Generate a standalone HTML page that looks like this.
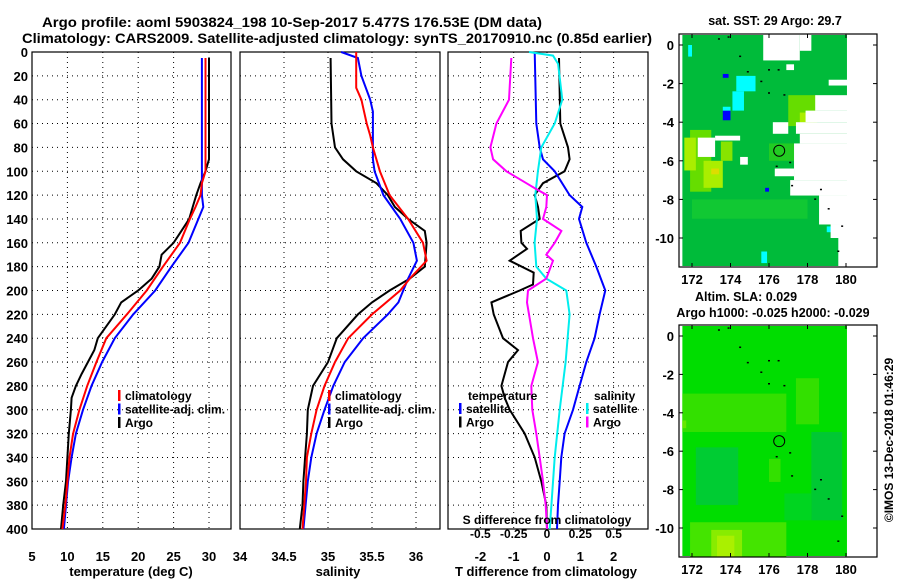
<!DOCTYPE html>
<html><head><meta charset="utf-8"><style>
html,body{margin:0;padding:0;background:#fff;}
svg text{font-family:"Liberation Sans",sans-serif;font-weight:bold;}
</style></head><body>
<svg id="fig" width="900" height="580" viewBox="0 0 900 580" xmlns="http://www.w3.org/2000/svg">
<text x="42" y="27" font-size="14" textLength="500" lengthAdjust="spacingAndGlyphs">Argo profile: aoml 5903824_198 10-Sep-2017 5.477S 176.53E (DM data)</text>
<text x="22" y="43" font-size="14" textLength="630" lengthAdjust="spacingAndGlyphs">Climatology: CARS2009. Satellite-adjusted climatology: synTS_20170910.nc (0.85d earlier)</text>
<g id="g"></g>
</svg>
<script>
// ===== profile data =====
const depthGrid = [0,20,40,60,80,100,120,140,160,180,200,220,240,260,280,300,320,340,360,380,400];
const tempArgoDepth = [5,90,100,110,120,130,140,150,160,170,180,190,200,210,220,230,240,250,260,270,280,290,300,320,340,360,380,400];
const tempArgo = [30.0,30.0,29.5,28.8,28.2,27.7,27.2,26.1,25.0,23.3,23.0,21.9,20.0,17.6,16.7,15.5,14.3,13.8,12.9,12.0,11.2,10.6,10.5,10.2,10.0,9.8,9.4,9.1];
const tempClimDepth = [5,100,110,120,130,140,160,180,200,220,240,260,280,300,320,340,360,380,400];
const tempClim = [29.5,29.5,29.0,28.8,28.1,27.3,25.9,23.5,21.2,18.4,15.5,14.1,12.8,11.7,10.8,10.3,10.0,9.7,9.3];
const tempSatDepth = [5,120,130,140,160,180,200,220,240,260,280,300,320,340,360,380,400];
const tempSat = [29.0,29.0,29.2,28.5,27.1,24.7,22.4,19.3,16.7,14.9,13.4,12.2,11.2,10.6,10.1,9.8,9.5];

const salArgoDepth = [5,60,80,90,100,110,120,130,140,150,160,180,190,200,210,220,240,260,280,300,320,340,360,380,400];
const salArgo = [35.03,35.04,35.08,35.17,35.32,35.55,35.68,35.76,35.91,36.10,36.12,36.10,35.93,35.70,35.50,35.34,35.10,35.00,34.83,34.77,34.76,34.74,34.72,34.71,34.68];
const salClimDepth = [0,30,40,60,70,80,100,120,140,160,175,190,200,220,240,260,280,300,320,340,360,400];
const salClim = [35.32,35.32,35.38,35.44,35.48,35.51,35.59,35.70,35.91,36.08,36.12,35.93,35.82,35.50,35.23,35.08,34.96,34.87,34.81,34.76,34.75,34.71];
const salSatDepth = [0,5,20,40,50,90,100,120,140,160,175,190,210,220,240,260,280,300,320,340,360,400];
const salSat = [35.15,35.34,35.38,35.48,35.51,35.51,35.53,35.63,35.82,35.97,36.01,35.91,35.80,35.68,35.40,35.19,35.06,34.96,34.87,34.81,34.77,34.72];

const dTArgoDepth = [5,60,80,90,100,110,120,130,140,150,160,165,175,185,195,200,210,220,240,250,260,280,290,300,320,340,360,380,400];
const dTArgo = [0.36,0.40,0.63,0.68,0.53,-0.12,-0.37,-0.27,-0.22,-0.79,-0.77,-0.60,-1.12,-0.40,-0.42,-0.82,-1.67,-1.60,-1.32,-0.87,-1.17,-1.37,-1.27,-1.12,-0.67,-0.37,-0.17,-0.02,0.0];
const dTSatDepth = [0,60,80,90,100,120,130,140,160,180,200,220,240,260,280,300,320,340,360,380,400];
const dTSat = [-0.37,-0.32,-0.22,-0.12,0.23,0.68,1.06,0.96,1.18,1.48,1.75,1.58,1.43,1.18,0.98,0.78,0.53,0.43,0.38,0.33,0.30];
const dSSatDepth = [0,3,10,40,60,80,100,120,140,160,180,190,200,220,260,300,340,380,400];
const dSSat = [-0.135,0.045,0.083,0.115,0.058,-0.043,-0.068,-0.088,-0.075,-0.093,-0.08,-0.005,0.145,0.17,0.14,0.095,0.058,0.033,0.02];
const dSArgoDepth = [5,40,60,80,90,100,110,115,120,130,140,150,160,170,175,190,200,210,240,260,280,300,320,340,360,380,400];
const dSArgo = [-0.268,-0.285,-0.38,-0.425,-0.405,-0.305,-0.155,-0.08,0.0,-0.005,-0.03,0.108,0.058,-0.005,0.045,-0.005,-0.143,-0.15,-0.105,-0.068,-0.118,-0.11,-0.08,-0.055,-0.03,-0.01,0.0];

const depthTicks = [0,20,40,60,80,100,120,140,160,180,200,220,240,260,280,300,320,340,360,380,400];
const tempTicks = [5,10,15,20,25,30,35];
const salTicks = [34,34.5,35,35.5,36];
const dTTicks = [-2,-1,0,1,2];
const dSTickLabels = ["-0.5","-0.25","0","0.25","0.5"];
const dSTicks = [-0.5,-0.25,0,0.25,0.5];

// ===== map data =====
const lonTicks = [172,174,176,178,180];
const latTicks = [0,-2,-4,-6,-8,-10];
const sstGapRects = [ // [lon0, lon1, lat0, lat1] white (no data)
 [175.7,177.6,0.6,-0.8],[177.6,178.2,0.6,-0.3],[178.4,180.1,-2.6,-3.4],[177.9,180.1,-3.4,-4.0],[177.4,180.1,-4.0,-4.6],
 [176.2,177.0,-4.0,-4.6],[177.6,180.1,-4.6,-5.1],[177.3,180.1,-5.1,-7.0],[176.3,177.3,-6.4,-6.8],[177.1,180.1,-7.0,-7.8],
 [178.6,180.1,-7.8,-9.3],[179.2,180.1,-9.3,-10.0],[179.6,180.1,-10.0,-11.6],
 [172.3,173.2,-4.8,-5.8],[173.2,174.5,-4.7,-4.95],[174.5,174.9,-5.8,-6.2],[176.9,177.3,-1.0,-1.3],[179.1,180.1,-1.8,-2.1]];
const sstPatchRects = [ // [lon0, lon1, lat0, lat1, color]
 [171.9,173.0,-4.4,-7.6,"#66dd00"],[172.6,173.6,-6.0,-7.4,"#aaee00"],[173.0,173.4,-6.4,-6.7,"#dddd00"],[171.6,172.2,-4.8,-6.5,"#aaee00"],
 [177.0,178.5,-2.6,-4.2,"#66dd00"],[177.6,178.3,-3.5,-4.0,"#aaee00"],[173.5,174.1,-5.0,-6.0,"#88e400"],
 [174.3,175.3,-1.6,-2.4,"#00ffff"],[174.1,174.7,-2.4,-3.4,"#00ffff"],[173.6,174.0,-3.4,-3.9,"#0000ff"],[173.6,173.9,-1.5,-1.7,"#0000ff"],
 [175.8,176.0,-7.4,-7.6,"#0000ff"],[171.8,172.0,-0.0,-0.6,"#00ffff"],[175.6,175.9,-10.7,-11.3,"#00ffff"],[179.0,179.4,-9.4,-9.7,"#00ffff"],
 [173.6,174.0,-3.2,-3.4,"#00ffff"],[176.0,177.3,-5.1,-6.0,"#22cc22"],[172.0,178.0,-8.0,-9.0,"#11c833"]];
const slaPatchRects = [
 [171.5,176.9,-3.0,-5.0,"#33e000"],[177.4,178.6,-2.2,-4.6,"#33e000"],[176.0,176.6,-6.4,-7.6,"#33e000"],
 [172.2,174.4,-5.8,-8.8,"#00cc33"],[178.2,179.8,-5.0,-9.6,"#00c833"],[176.8,178.2,-8.2,-9.6,"#00d520"],
 [171.9,176.9,-9.7,-11.6,"#44e400"],[173.0,174.6,-10.1,-11.6,"#88ec00"],[173.3,174.2,-10.4,-11.6,"#aaf000"],[171.5,171.7,-4.4,-4.8,"#66e800"]];
const islands = [[173.4,0.3],[173.9,0.4],[174.5,-0.6],[174.9,-1.4],[176.0,-1.3],[176.5,-1.3],[175.6,-1.9],[176.0,-2.5],[176.8,-2.6],[176.4,-6.3],[177.1,-6.1],[177.2,-7.3],[178.7,-7.5],[178.4,-8.0],[179.1,-8.5],[179.8,-9.4],[179.6,-10.7]];
const argoLon = 176.53, argoLat = -5.477;

// ===== drawing =====
const NS="http://www.w3.org/2000/svg";
const G=document.getElementById('g');
function el(tag,attrs,parent){const e=document.createElementNS(NS,tag);for(const k in attrs)e.setAttribute(k,attrs[k]);(parent||G).appendChild(e);return e;}
function txt(x,y,s,size,anchor,parent){const t=el('text',{x:x,y:y,'font-size':size,'text-anchor':anchor||'middle'},parent);t.textContent=s;return t;}

const Y0=52, Y1=529;
const yD=d=>Y0+(d/400)*(Y1-Y0);
const xT=v=>32+(v-5)*7.08;
const xS=v=>240+(v-34)*88;
const xDT=v=>547+v*33.3;
const xDS=v=>547+v*133.2;

function panel(name,x0,x1){
  const g=el('g',{});
  
  
  el('rect',{x:x0,y:Y0,width:x1-x0,height:Y1-Y0,fill:'#fff',stroke:'#000','stroke-width':1.2},g);
  depthTicks.forEach(d=>{ if(d>0&&d<400) el('line',{x1:x0,x2:x1,y1:yD(d),y2:yD(d),stroke:'#000','stroke-width':1,'stroke-dasharray':'1,4'},g);});
  return g;
}
function vgrid(g,vals,f){vals.forEach(v=>{const x=f(v);el('line',{x1:x,x2:x,y1:Y0,y2:Y1,stroke:'#000','stroke-width':1,'stroke-dasharray':'1,4'},g);});}
function line(g,name,ds,vs,f,color,w){
  const p=ds.map((d,i)=>f(vs[i]).toFixed(1)+','+yD(d).toFixed(1)).join(' ');
  const l=el('polyline',{points:p,fill:'none',stroke:color,'stroke-width':w||2},g);
  
  
}
function legend(g,x,y,items){
  items.forEach((it,i)=>{
    el('rect',{x:x,y:y+i*13.5-10,width:2.5,height:11,fill:it[1]},g);
    const t=txt(x+7,y+i*13.5,it[0],12,'start',g);
    
    
  });
}

// Panel 1: temperature
const p1=panel('temperature-panel',32,231);
vgrid(p1,[10,15,20,25,30],xT);
line(p1,'temp-argo-line',tempArgoDepth,tempArgo,xT,'#000');
line(p1,'temp-sat-line',tempSatDepth,tempSat,xT,'#0000ff');
line(p1,'temp-clim-line',tempClimDepth,tempClim,xT,'#ff0000');
legend(p1,118,400,[['climatology','#ff0000'],['satellite-adj. clim.','#0000ff'],['Argo','#000']]);
depthTicks.forEach(d=>txt(28,yD(d)+5,String(d),13,'end',p1));
tempTicks.forEach(v=>{const x=xT(v); if(x<=236) txt(x,561,String(v),13,'middle',p1);});
txt(131,576,'temperature (deg C)',13,'middle',p1);

// Panel 2: salinity
const p2=panel('salinity-panel',240,440);
vgrid(p2,[34.5,35,35.5,36],xS);
line(p2,'sal-argo-line',salArgoDepth,salArgo,xS,'#000');
line(p2,'sal-sat-line',salSatDepth,salSat,xS,'#0000ff');
line(p2,'sal-clim-line',salClimDepth,salClim,xS,'#ff0000');
legend(p2,328,400,[['climatology','#ff0000'],['satellite-adj. clim.','#0000ff'],['Argo','#000']]);
salTicks.forEach(v=>txt(xS(v),561,String(v),13,'middle',p2));
txt(338,576,'salinity',13,'middle',p2);

// Panel 3: differences
const p3=panel('difference-panel',448,648);
vgrid(p3,dTTicks,xDT);
line(p3,'dT-argo-line',dTArgoDepth,dTArgo,xDT,'#000');
line(p3,'dT-sat-line',dTSatDepth,dTSat,xDT,'#0000ff');
line(p3,'dS-sat-line',dSSatDepth,dSSat,xDS,'#00eeee');
line(p3,'dS-argo-line',dSArgoDepth,dSArgo,xDS,'#ff00ff');
txt(468,400,'temperature',12,'start',p3);
legend(p3,459,413,[['satellite','#0000ff'],['Argo','#000']]);
txt(594,400,'salinity',12,'start',p3);
legend(p3,586,413,[['satellite','#00eeee'],['Argo','#ff00ff']]);
txt(547,524,'S difference from climatology',12,'middle',p3);
dSTicks.forEach((v,i)=>txt(xDS(v),538,dSTickLabels[i],12,'middle',p3));
dTTicks.forEach(v=>txt(xDT(v),561,String(v),13,'middle',p3));
txt(546,576,'T difference from climatology',13,'middle',p3);

// Maps
function mapPanel(name,top,bottom,baseColor,patches,gaps,titles){
  const g=el('g',{});
  
  
  const X0=679,X1=877;
  const lat0Y = name==='sst-map'?45:336, pxPerLat = name==='sst-map'?19.3:19.2;
  const xL=l=>692+(l-172)*19.25;
  const yL=l=>lat0Y-l*pxPerLat;
  el('rect',{x:X0,y:top,width:X1-X0,height:bottom-top,fill:'#fff'},g);
  el('rect',{x:xL(171.5),y:top+1,width:xL(180.05)-xL(171.5),height:bottom-top-2,fill:baseColor},g);
  patches.forEach(r=>{const x0=Math.max(xL(r[0]),682),x1=Math.min(xL(r[1]),847.5),y0=Math.max(yL(r[2]),top),y1=Math.min(yL(r[3]),bottom);
    el('rect',{x:x0,y:y0,width:x1-x0,height:y1-y0,fill:r[4]},g);});
  gaps.forEach(r=>{const x0=xL(r[0]),x1=Math.min(xL(r[1]),848),y0=Math.max(yL(r[2]),top),y1=Math.min(yL(r[3]),bottom);
    el('rect',{x:x0,y:y0,width:x1-x0,height:y1-y0,fill:'#fff'},g);});
  islands.forEach(p=>el('rect',{x:xL(p[0])-1,y:yL(p[1])-1,width:2,height:1.5,fill:'#000'},g));
  const c=el('circle',{cx:xL(argoLon),cy:yL(argoLat),r:5.5,fill:'none',stroke:'#000','stroke-width':1},g);
  
  
  el('rect',{x:X0,y:top,width:X1-X0,height:bottom-top,fill:'none',stroke:'#000','stroke-width':1.2},g);
  lonTicks.forEach(l=>{const x=xL(l);el('line',{x1:x,x2:x,y1:bottom,y2:bottom-4,stroke:'#000'},g);el('line',{x1:x,x2:x,y1:top,y2:top+4,stroke:'#000'},g);txt(x,bottom+17,String(l),13,'middle',g);});
  latTicks.forEach(l=>{const y=yL(l);el('line',{x1:X0,x2:X0+4,y1:y,y2:y,stroke:'#000'},g);el('line',{x1:X1,x2:X1-4,y1:y,y2:y,stroke:'#000'},g);txt(674,y+5,String(l),13,'end',g);});
  titles.forEach(t=>txt(t[0],t[1],t[2],12.5,'middle',g));
}
mapPanel('sst-map',34,267,'#00bb3a',sstPatchRects,sstGapRects,[[775,25,'sat. SST: 29 Argo: 29.7']]);
mapPanel('sla-map',325,557,'#00dd00',slaPatchRects,[],[[746,301,'Altim. SLA: 0.029'],[773,317,'Argo h1000: -0.025 h2000: -0.029']]);
const cr=txt(893,440,'©IMOS 13-Dec-2018 01:46:29',12,'middle');
cr.setAttribute('transform','rotate(-90 893 440)');
cr.setAttribute('font-weight','normal');


</script>
</body></html>
